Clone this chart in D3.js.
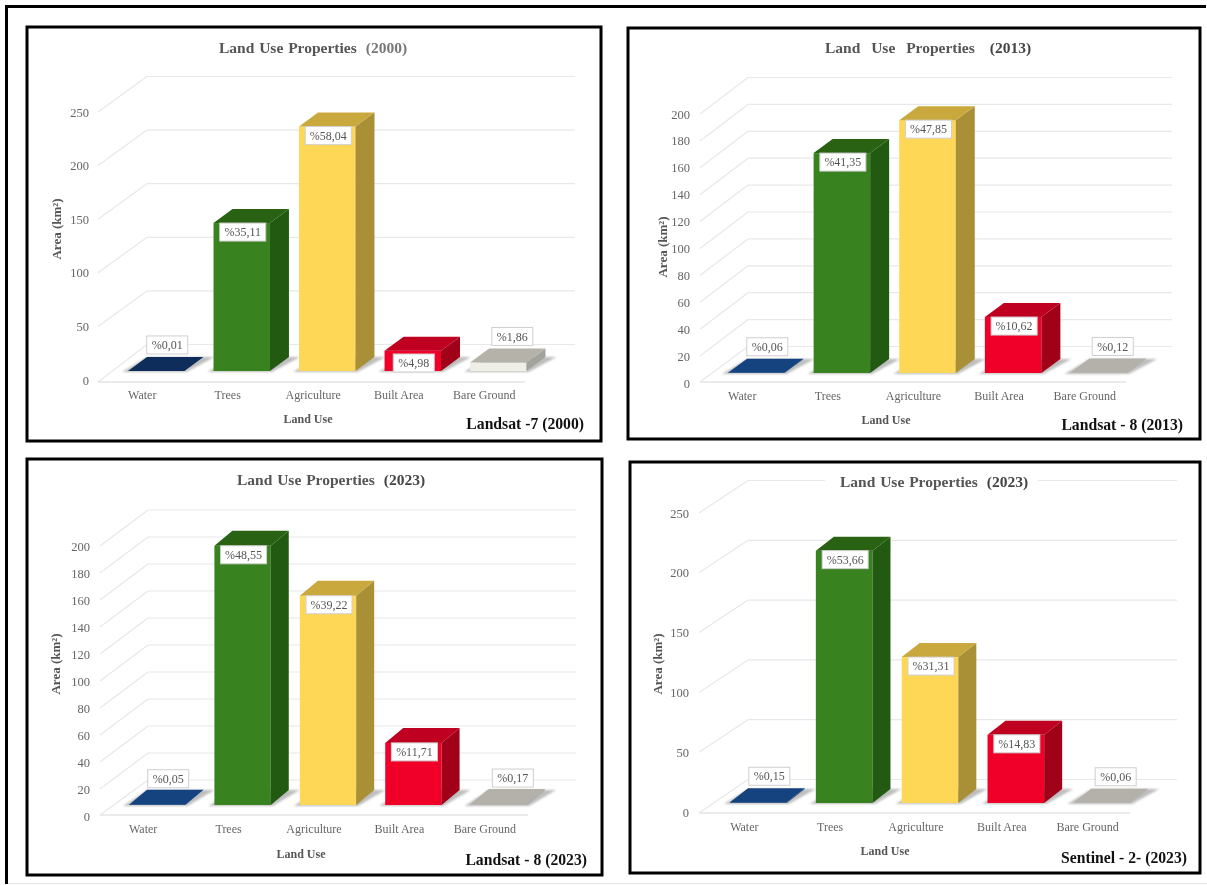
<!DOCTYPE html>
<html><head><meta charset="utf-8">
<script src="https://cdn.jsdelivr.net/npm/d3@7/dist/d3.min.js"></script>
<style>html,body{margin:0;padding:0;background:#fff}svg{display:block;filter:blur(0.35px)}text{font-family:"Liberation Serif",serif}</style>
</head><body><svg id="c" width="1207" height="885"></svg>
<script>
const categories = ["Water","Trees","Agriculture","Built Area","Bare Ground"];
const titleMain = "Land Use Properties";
const xAxisTitle = "Land Use";
const yAxisTitle = "Area (km²)";
const values2000 = [0.04,138,228,19,8];
const labels2000 = ["%0,01","%35,11","%58,04","%4,98","%1,86"];
const values2013 = [0.2,163.5,188,41.6,0.4];
const labels2013 = ["%0,06","%41,35","%47,85","%10,62","%0,12"];
const values2023L = [0.2,192,155,46,0.7];
const labels2023L = ["%0,05","%48,55","%39,22","%11,71","%0,17"];
const values2023S = [0.6,211,122,57,0.2];
const labels2023S = ["%0,15","%53,66","%31,31","%14,83","%0,06"];
const ticksA = [0,50,100,150,200,250];
const ticksB = [0,20,40,60,80,100,120,140,160,180,200];

const panels = [
 {year:"(2000)",yearFill:"#777",values:values2000,labels:labels2000,ticks:ticksA,source:"Landsat -7 (2000)",wordGap:1,
  frame:[27,27,601,441],titleXY:[313,48],y0:380,yTop:112,axisL:98,axisR:525,axisY:382,backL:147,backR:575,backDy:35.5,
  band:[128,526.5],base:371,depth:[19,14],tickR:89,yTitleXY:[56,229],catY:395,xTitleXY:[308,419],sourceXY:[584,424],water:"#0f2d5a",bareFront:"#efefe8",bareTop:"#b5b2a9",bareSide:"#a3a39d"},
 {year:"(2013)",yearFill:"#444",values:values2013,labels:labels2013,ticks:ticksB,source:"Landsat - 8 (2013)",wordGap:7,
  frame:[628,28,1200,439],titleXY:[928,48],y0:383,yTop:114,axisL:700,axisR:1126,axisY:382,backL:748,backR:1172,backDy:36.5,
  band:[728,1127],base:373,depth:[19,14],tickR:690,yTitleXY:[662,247],catY:396,xTitleXY:[886,420],sourceXY:[1183,425],water:"#14437f",bareFront:"#b3b1aa",bareTop:"#b3b1aa",bareSide:"#a3a39d"},
 {year:"(2023)",yearFill:"#444",values:values2023L,labels:labels2023L,ticks:ticksB,source:"Landsat - 8 (2023)",wordGap:1,
  frame:[27,459,602,875],titleXY:[331,480],y0:816,yTop:546,axisL:100,axisR:528,axisY:815,backL:148,backR:576,backDy:36,
  band:[129,527],base:805,depth:[18,15],tickR:90,yTitleXY:[55,664],catY:829,xTitleXY:[301,854],sourceXY:[587,860],water:"#14437f",bareFront:"#b3b1aa",bareTop:"#b3b1aa",bareSide:"#a3a39d"},
 {year:"(2023)",yearFill:"#444",values:values2023S,labels:labels2023S,ticks:ticksA,source:"Sentinel - 2- (2023)",wordGap:1,
  frame:[630,462,1200,873],titleXY:[934,482],y0:812,yTop:513,axisL:699,axisR:1130,axisY:813,backL:748,backR:1177,backDy:32.5,
  band:[730,1130],base:803,depth:[18,14],tickR:689,yTitleXY:[657,664],catY:827,xTitleXY:[885,851],sourceXY:[1187,858],water:"#14437f",bareFront:"#b3b1aa",bareTop:"#b3b1aa",bareSide:"#a3a39d",titleGap:[825,1038]}
];
const barColors = {
 "Trees":{front:"#38821f",side:"#235a12",top:"#2a6214"},
 "Agriculture":{front:"#ffd757",side:"#a98f35",top:"#c9a83d"},
 "Built Area":{front:"#f00028",side:"#a00018",top:"#c00020"}
};
const svg = d3.select("#c");
const defs = svg.append("defs");
defs.append("filter").attr("id","soft").append("feGaussianBlur").attr("stdDeviation",1.2);

// outer border
svg.append("rect").attr("width",1207).attr("height",885).attr("fill","#fff");
svg.append("line").attr("x1",5).attr("x2",1206).attr("y1",6.5).attr("y2",6.5).attr("stroke","#000").attr("stroke-width",3);
svg.append("line").attr("x1",6.5).attr("x2",6.5).attr("y1",5).attr("y2",884).attr("stroke","#000").attr("stroke-width",3);
svg.append("line").attr("x1",8).attr("x2",1207).attr("y1",883.5).attr("y2",883.5).attr("stroke","#e4e4e4").attr("stroke-width",1);

panels.forEach(p=>{
 const g = svg.append("g");
 const [fx0,fy0,fx1,fy1]=p.frame;
 g.append("rect").attr("x",fx0).attr("y",fy0).attr("width",fx1-fx0).attr("height",fy1-fy0)
  .attr("fill","#fff").attr("stroke","#000").attr("stroke-width",3);
 const maxT = d3.max(p.ticks);
 const y = d3.scaleLinear().domain([0,maxT]).range([p.y0,p.yTop]);
 const x = d3.scaleBand().domain(categories).range(p.band).paddingInner(0.34).paddingOuter(0);

 // grid
 const grid = g.append("g").attr("fill","none").attr("stroke","#e8e8e8").attr("stroke-width",1.2);
 p.ticks.forEach(t=>{
  const yf = t===0?p.axisY:y(t), yb = y(t)-p.backDy;
  grid.append("line").attr("x1",p.axisL).attr("y1",yf).attr("x2",p.backL).attr("y2",yb);
  grid.append("line").attr("x1",p.backL).attr("y1",yb).attr("x2",p.backR).attr("y2",yb);
 });
 g.append("line").attr("x1",p.axisL).attr("x2",p.axisR).attr("y1",p.axisY).attr("y2",p.axisY).attr("stroke","#e4e4e4").attr("stroke-width",1.4);
 if(p.titleGap) g.append("rect").attr("x",p.titleGap[0]).attr("width",p.titleGap[1]-p.titleGap[0]).attr("y",y(maxT)-p.backDy-3).attr("height",6).attr("fill","#fff");

 // y axis
 const ax = g.append("g").attr("transform",`translate(${p.tickR},0)`)
   .call(d3.axisLeft(y).tickValues(p.ticks).tickSize(0).tickPadding(0).tickFormat(d3.format("d")));
 ax.select(".domain").remove();
 ax.selectAll("text").attr("fill","#666").style("font-family",'"Liberation Serif",serif').style("font-size","12.5px");

 // bars
 const [dx,dy]=p.depth;
 const bars = categories.map((c,i)=>({c,i,v:p.values[i],label:p.labels[i]}));
 const col = d=> barColors[d.c] || (d.c==="Water"?{front:p.water,side:p.water,top:p.water}:{front:p.bareFront,side:p.bareSide,top:p.bareTop});
 const poly = pts=>pts.map(q=>q.join(",")).join(" ");
 const bw = x.bandwidth();
 const barTop = v => p.base-(y(0)-y(v));
 const bg = g.append("g");
 bars.forEach(d=>{
  const xl=x(d.c), xr=xl+bw, top=barTop(d.v), b=p.base, c=col(d);
  bg.append("polygon").attr("points",poly([[xl-6,b+1],[xr+2,b+1],[xr+dx+11,b-dy],[xl+dx,b-dy]])).attr("fill","#a8a8a8").attr("opacity",0.75).attr("filter","url(#soft)");
  bg.append("rect").attr("x",xl).attr("y",top).attr("width",bw).attr("height",Math.max(0,b-top)).attr("fill",c.front);
  bg.append("polygon").attr("points",poly([[xr,top],[xr+dx,top-dy],[xr+dx,b-dy],[xr,b]])).attr("fill",c.side);
  bg.append("polygon").attr("points",poly([[xl,top],[xl+dx,top-dy],[xr+dx,top-dy],[xr,top]])).attr("fill",c.top);
 });
 // value labels
 bars.forEach(d=>{
  const small = d.v<10;
  const top=barTop(d.v);
  const h=18;
  const cx = small ? x(d.c)+bw/2+(d.c==="Water"?11:14) : x(d.c)+bw/2+1;
  const cy = small ? top-26 : (d.v<30 ? p.base-8 : top+9);
  const bwid = d.label.length>=6?46:41;
  const lg = g.append("g");
  lg.append("rect").attr("x",cx-bwid/2).attr("y",cy-h/2).attr("width",bwid).attr("height",h).attr("fill","#fff").attr("stroke","#cfcfcf").attr("stroke-width",1);
  lg.append("text").attr("x",cx).attr("y",cy).attr("dy","0.35em").attr("text-anchor","middle").attr("fill","#555").attr("font-size",12).text(d.label);
 });
 // category labels
 g.selectAll(".cat").data(categories).enter().append("text")
  .attr("x",c=>x(c)+bw/2-14).attr("y",p.catY).attr("dy","0.35em").attr("text-anchor","middle")
  .attr("fill","#666").attr("font-size",12).text(c=>c);
 // titles
 const t = g.append("text").attr("x",p.titleXY[0]).attr("y",p.titleXY[1]).attr("dy","0.35em").attr("text-anchor","middle")
  .attr("font-size",15.5).attr("font-weight","bold").attr("fill","#555").attr("word-spacing",p.wordGap);
 t.append("tspan").text(titleMain);
 t.append("tspan").attr("dx",8+p.wordGap).attr("fill",p.yearFill).text(p.year);
 g.append("text").attr("x",p.xTitleXY[0]).attr("y",p.xTitleXY[1]).attr("dy","0.35em").attr("text-anchor","middle")
  .attr("font-size",12).attr("font-weight","bold").attr("fill","#555").text(xAxisTitle);
 g.append("text").attr("transform",`translate(${p.yTitleXY[0]},${p.yTitleXY[1]}) rotate(-90)`).attr("dy","0.35em").attr("text-anchor","middle")
  .attr("font-size",13).attr("font-weight","bold").attr("fill","#555").text(yAxisTitle);
 g.append("text").attr("x",p.sourceXY[0]).attr("y",p.sourceXY[1]).attr("dy","0.35em").attr("text-anchor","end")
  .attr("font-size",15.7).attr("font-weight","bold").attr("fill","#111").text(p.source);
});
</script></body></html>
